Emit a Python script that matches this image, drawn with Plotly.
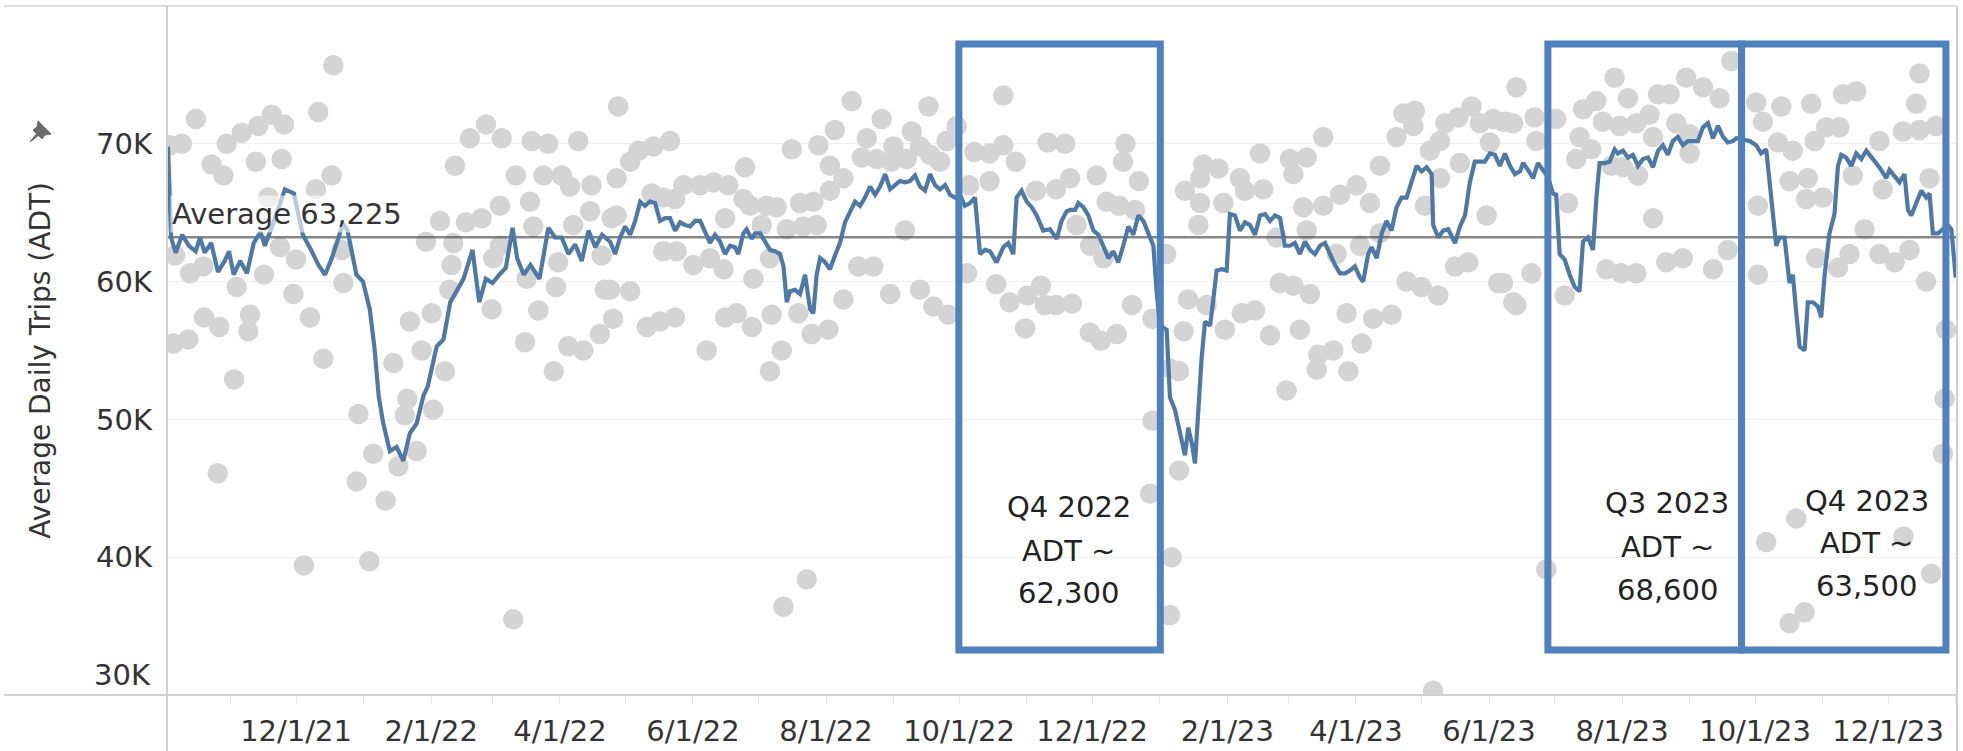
import pandas as pd
import plotly.graph_objects as go

BASE_DATE = "2021-12-01"

# ---- Blue line: rolling Average Daily Trips (days after 12/1/21, value) ----
line_day = [
    -58.7, -57.3, -55.2, -52.2, -49.1, -46.0, -44.0, -41.9, -38.9, -35.8, -32.7, -30.7, -28.6, -25.6,
    -22.5, -19.4, -16.3, -14.3, -11.2, -9.2, -5.1, -1.0, 3.1, 7.2, 10.3, 13.3, 16.4, 19.5, 21.5, 23.6,
    27.7, 30.7, 33.8, 35.9, 37.9, 40.0, 43.0, 46.1, 49.2, 52.2, 55.3, 58.4, 60.4, 64.5, 67.6, 70.7,
    73.7, 76.8, 80.9, 84.0, 87.0, 90.1, 93.2, 96.2, 99.3, 101.4, 104.4, 107.5, 111.6, 115.7, 118.8,
    121.8, 124.9, 128.0, 131.0, 134.1, 137.2, 140.3,
    144.0, 146.3, 148.6, 150.9, 153.2, 155.5, 157.8, 160.0, 162.3, 164.6, 166.9, 169.2, 171.5, 173.8,
    176.1, 178.4, 180.7, 183.0, 185.3, 187.5, 189.8, 192.1, 194.4, 196.7, 199.0, 201.3, 202.8, 205.1,
    206.6, 208.9, 210.5, 212.8, 215.1, 217.3, 219.6, 221.9, 223.5, 225.0, 226.5, 228.8, 231.1, 233.4,
    235.7, 237.2, 238.7, 240.3, 242.6, 244.8, 247.1, 249.4, 251.7, 254.0, 256.3, 258.6, 260.9, 263.2,
    265.5, 267.8, 270.1, 272.4, 274.6, 276.9, 279.2, 281.5, 283.8, 286.1, 288.4, 290.7, 293.0, 295.3,
    297.6, 299.9, 302.1, 304.4, 306.7, 309.0, 311.3, 313.6, 315.9, 318.2, 321.2, 324.3, 326.6, 328.9,
    330.4, 332.7, 335.0, 337.3, 339.6, 342.6, 345.7, 348.8, 351.0, 353.3, 355.0,
    357.2, 358.7, 361.0, 363.3, 365.6, 367.9, 370.2, 372.5, 374.8, 377.0, 379.3, 381.6, 383.9, 386.2,
    388.5, 390.8, 393.1, 394.6, 396.1, 399.2, 400.7, 403.0, 405.3, 407.6, 409.1, 410.7, 412.2, 413.7,
    415.2, 416.8, 419.1, 420.6, 422.1, 424.4, 426.7, 428.2, 430.5, 432.8, 435.1, 437.4, 439.7, 442.0,
    444.3, 446.6, 448.9, 451.2, 453.4, 455.7, 458.0, 460.3, 462.6, 464.9, 467.2, 469.5, 471.8, 474.1,
    476.4, 478.7, 481.0, 483.2, 485.5, 487.8, 489.3, 491.6, 493.2, 495.5, 497.8, 500.0, 502.3, 504.6,
    506.9, 509.2, 511.5, 513.8, 516.1, 518.4, 520.7, 521.4, 523.7, 526.0, 528.3, 531.4, 533.7, 536.0,
    538.2, 540.5, 542.8, 545.1, 547.4, 549.7, 552.0, 554.3, 556.6, 558.9, 561.2,
    562.6, 564.9, 567.2, 569.4, 571.7, 574.0, 576.3, 577.8, 579.4, 581.7, 584.0, 586.3, 588.5, 590.1,
    592.4, 594.7, 596.2, 597.7, 600.0, 602.3, 604.6, 606.1, 608.4, 610.7, 613.0, 615.3, 617.6, 619.9,
    622.2, 624.5, 626.7, 629.0, 631.3, 633.6, 635.9, 638.2, 640.5, 642.8, 645.1, 647.4, 649.7, 652.0,
    654.3, 656.5, 658.8, 660.4, 663.5, 666.5, 669.5, 671.8, 674.1, 675.6, 677.2, 678.7, 680.2, 682.5,
    684.8, 686.3, 687.9, 689.4, 691.7, 693.2, 695.5, 697.8, 699.3, 700.9, 703.1, 705.4, 707.0, 708.5,
    710.8, 713.1, 715.4, 717.7, 720.0, 722.2, 724.5, 726.8, 729.1, 730.6, 732.9, 735.2, 737.5, 739.1,
    740.6, 742.9, 745.2, 747.5, 749.0, 750.5, 752.8, 755.1, 757.4, 759.0, 761.0,
]
line_adt = [
    69800, 63200, 62100, 63400, 62600, 62200, 63200, 62100, 62800, 60700, 61500, 62200, 60500, 61500,
    60600, 62800, 63600, 62600, 63900, 64800, 66700, 66400, 63400, 62200, 61200, 60500, 61700, 63200, 64200, 63700,
    60500, 60000, 58000, 55300, 51700, 49700, 47700, 48000, 47000, 49000, 49700, 51700, 52400, 55300, 55800, 58500,
    59300, 60200, 62300, 58500, 60200, 59900, 60500, 61000, 63900, 61700, 60500, 61200, 60200, 63900, 63200,
    63200, 62000, 62700, 61500, 63700, 62500, 63400,
    62900, 62000, 63200, 64000, 63400, 64400, 65800, 65500, 65800, 65700, 64400, 64600, 64600, 63700,
    64300, 64100, 64000, 64400, 64400, 63700, 62800, 63400, 62900, 62000, 62600, 62500, 62000, 63500,
    63800, 63100, 63500, 63500, 62900, 62300, 62200, 62000, 61100, 58500, 59300, 59400, 59100, 60500,
    58000, 57700, 60500, 61700, 61400, 60900, 61900, 62800, 64300, 65100, 65800, 65500, 66100, 66900,
    66300, 66900, 67800, 66700, 67000, 67300, 67200, 67300, 67700, 66900, 66600, 67800, 67000, 66700,
    67000, 66300, 66100, 66300, 65500, 65700, 66100, 62000, 62300, 62200, 61400, 62500, 62800, 62000,
    66100, 66600, 65800, 65400, 64800, 63700, 63800, 63100, 64400, 65100, 65200,
    65200, 65700, 65400, 64800, 63700, 63400, 62600, 61700, 62200, 61400, 62600, 64000, 63400, 64800,
    64400, 63400, 62600, 59300, 56800, 56500, 51600, 50700, 49200, 47400, 49400, 48300, 46800, 51300,
    54400, 57100, 56800, 58700, 60800, 60900, 60800, 64900, 64800, 63700, 64300, 64100, 63400, 64800,
    64900, 64400, 64800, 64600, 62600, 62600, 62800, 62000, 62900, 62300, 62000, 62600, 62800, 62000,
    61200, 60600, 60600, 60800, 61100, 60300, 60000, 62000, 62500, 61700, 63500, 64400, 63700, 65400,
    66100, 66100, 67300, 68400, 68000, 68300, 67800, 64100, 63200, 63700, 63800, 62800, 64000, 64800,
    67200, 68700, 68700, 68700, 69300, 69200, 68400, 69300, 68400, 67800, 68000,
    68600, 68100, 67500, 68600, 68100, 67600, 66400, 66300, 62000, 61600, 60500, 59600, 59300, 62900,
    63200, 62300, 66000, 68600, 68600, 68700, 69600, 69300, 69500, 69000, 69200, 68400, 68900, 69000,
    68300, 69500, 69900, 69200, 70200, 70500, 69900, 70200, 70200, 70200, 71200, 71500, 70400, 71300,
    70500, 70100, 70200, 70400, 70300, 70200, 69900, 69300, 69600, 67500, 65100, 62600, 63200, 63200,
    59900, 60500, 57700, 55300, 55000, 58500, 58500, 58200, 57400, 60500, 63500, 64900, 68400, 69200,
    69000, 68400, 69300, 68900, 69500, 69000, 68600, 68100, 67500, 68100, 67700, 67200, 67800, 65200,
    64800, 65700, 66600, 66100, 66400, 63500, 63500, 63800, 64100, 63800, 60300,
]

# ---- Grey dots: daily ADT observations (days after 12/1/21, value) ----
dot_day = [
    -57.8, -52.4, -45.9, -38.7, -33.3, -31.8, -24.9, -18.4, -17.3, -11.2, -6.6, -5.5, 10.2, 17.1, 16.3,
    9.1, -12.7, -55.5, -48.6, -42.5, -27.2, -14.7, -7.4, 0.0, -1.2, 6.4, 12.5, -28.4, -35.9, -56.2,
    -49.4, -42.2, -35.2, -21.9, -21.1, 3.6, 21.7, 20.9,
    27.8, 28.6, 33.6, 35.4, 41.1, 44.6, 46.9, 49.9, 51.0, 52.2, 55.3, 57.6, 59.6, 62.2, 62.9, 66.0,
    68.3, 70.3, 71.3, 72.1, 72.9, 77.9, 79.7, 85.1, 87.1, 89.7, 90.4,
    93.5, 93.5, 94.3, 99.6, 100.8, 105.0, 105.7, 107.3, 108.0, 108.8, 111.1, 113.4, 115.6, 118.2, 119.2,
    120.2, 121.8, 124.8, 125.6, 127.1, 129.4, 131.7, 134.8, 135.5, 139.3, 140.1, 141.6, 144.7, 145.4, 147.7,
    144.0, 147.0, 147.0, 153.2, 153.2, 157.0, 160.8, 163.1, 163.9, 166.9, 168.4, 168.4, 171.5, 173.8,
    173.8, 174.5, 177.6, 182.2, 185.2, 188.3, 189.8, 191.4, 196.0, 196.7, 196.7, 198.2, 202.1, 205.1,
    205.9, 208.2, 209.0, 209.7, 213.5, 215.8, 217.3, 217.3, 218.1, 220.4, 222.7, 223.5, 225.0, 227.3,
    230.3, 231.1, 232.6, 234.2, 236.4, 237.2, 238.7, 239.5, 244.1, 244.8, 244.8, 247.1, 251.0, 251.0,
    254.8, 257.8, 259.4, 261.7, 264.7, 266.3, 268.5, 272.4, 273.1, 273.9, 279.2, 280.0, 282.3, 286.1,
    286.1, 290.0, 290.7, 292.2, 295.3, 298.3, 299.1, 302.9,
    307.7, 308.6, 311.0, 318.0, 318.0, 321.0, 324.3, 324.3, 327.2, 330.0, 334.3, 335.4, 339.3, 341.6,
    343.4, 344.6, 348.5, 348.5, 352.6, 354.9, 355.8, 357.9, 364.0, 364.1, 367.1, 369.1, 370.2, 371.7,
    376.3, 377.4, 379.2, 380.3, 383.3, 384.7, 386.5, 391.6, 392.7, 392.7, 399.0, 400.7, 400.7, 401.5,
    404.9, 404.9, 407.0, 409.0,
    407.6, 413.7, 414.5, 414.5, 416.0, 417.5, 422.9, 425.2, 425.9, 432.8, 433.6, 435.1, 439.7, 442.0,
    443.5, 446.6, 449.6, 451.1, 454.2, 455.7, 457.3, 457.3, 460.3, 461.8, 463.4, 463.4, 464.9, 468.0,
    468.7, 471.0, 471.0, 475.6, 477.1, 478.7, 481.7, 482.5, 486.3, 487.8, 488.6, 492.4, 493.9, 497.0,
    497.0, 502.3, 504.6, 507.7, 509.2, 512.3, 513.0, 516.1, 517.6, 519.9, 521.4, 523.7, 524.5, 524.5,
    526.9, 531.4, 532.9, 533.7, 537.5, 539.0, 542.8, 545.9, 547.4, 549.0, 551.2, 555.1, 558.1, 559.6,
    553.4, 553.4, 558.0, 559.5, 566.4, 567.9, 568.7, 573.3, 577.8, 581.7, 583.2, 587.0, 588.5, 590.1,
    593.9, 596.2, 599.2, 600.8, 603.1, 604.6, 606.9, 607.6, 608.4, 610.7, 614.5, 614.5, 615.3, 620.6,
    622.2, 622.2, 624.5, 628.3, 629.8, 632.9, 635.9, 637.4, 639.0, 639.0, 645.1, 649.7, 652.7, 656.5,
    658.1, 669.5, 670.3, 670.3, 672.6, 674.1, 679.5, 681.0, 684.8, 684.8, 686.3, 687.9, 691.7, 692.4,
    693.2, 694.7, 696.3, 697.0, 700.1, 701.6, 707.0, 707.7, 709.3, 712.3, 713.8, 715.4, 719.2, 726.0,
    726.0, 727.6, 733.0, 736.8, 737.0, 739.8, 742.9, 744.4, 744.4, 747.4, 749.0, 749.7, 752.0, 755.1,
    755.9, 756.6,
]
dot_adt = [
    69900, 70000, 71800, 68500, 67700, 70000, 70800, 68700, 71300, 72100, 68900, 71400, 72300, 75700, 67700,
    66700, 66100, 61900, 60600, 61100, 59600, 60500, 62500, 61600, 59100, 57400, 54400, 52900, 46100, 55500,
    55800, 57400, 56700, 56400, 57600, 39400, 59900, 62300,
    45500, 50400, 39700, 47500, 44100, 54100, 46600, 50300, 51500, 57100, 47700, 55000, 62900, 57700, 50700, 64400,
    53500, 59400, 61200, 62800, 68400, 64300, 70400, 64600, 71400, 58000, 61700,
    65500, 62600, 70400, 35500, 67700, 55600, 60200, 65800, 70200, 64000, 57900, 67700, 70000, 53500, 59600,
    61400, 67700, 55300, 66900, 64100, 70200, 55000, 65100, 67000, 56200, 61900, 59400, 64600, 57300, 72700,
    59400, 67500, 64800, 68700, 59300, 69500, 56700, 66400, 69800, 57100, 66100, 62200, 70200, 66000,
    57400, 62200, 67000, 61200, 67000, 55000, 61700, 67200, 60900, 64600, 57400, 67000, 57700, 66000,
    68300, 65500, 56700, 60200, 64100, 65500, 61700, 53500, 57600, 65400, 55000, 36400, 63800, 69600,
    57700, 65700, 64000, 38400, 56200, 65800, 64100, 69900, 56500, 66600, 68400, 71000, 67500, 58700,
    73100, 61100, 69000, 70400, 61100, 68900, 71800, 59100, 68700, 69800, 63700, 68900, 70900, 69800,
    59400, 72700, 69200, 58200, 68700, 70200, 57600, 71300,
    60600, 67000, 69400, 69300, 67300, 59800, 73500, 69900, 58500, 68700, 56600, 59000, 66600, 59700,
    58300, 70100, 66700, 58300, 70000, 67500, 58400, 64100, 56300, 62600, 67700, 55700, 61700, 65800,
    56200, 65500, 68700, 70000, 58300, 65200, 67300, 44600, 57300, 49900, 62000, 53700, 35800, 40000,
    53500, 46300, 56400, 58700,
    66600, 64100, 67500, 65700, 68500, 58300, 68200, 65700, 56500, 67500, 57700, 66600, 57900, 69300,
    66700, 56100, 63200, 59900, 52100, 68900, 67800, 59700, 56500, 65400, 69000, 63700, 59100, 53600,
    54700, 70500, 65500, 55000, 62000, 66300, 57700, 53500, 67000, 62600, 55500, 65700, 57300, 63500,
    68400, 57600, 70500, 72200, 60000, 71300, 72400, 59600, 65500, 69500, 30300, 59000, 70200, 67500,
    71500, 61100, 71900, 68600, 61400, 72700, 71500, 64800, 70100, 71800, 59900, 71600, 58500, 74100,
    59900, 71600, 71500, 58300, 60600, 71900, 70200, 39100, 71800, 59000, 65700, 68900, 70500, 72500,
    69600, 73100, 71600, 60900, 68400, 74800, 71300, 60600, 68300, 73300, 71500, 60600, 67700, 72100,
    70500, 64600, 73600, 61400, 73600, 71500, 61700, 74800, 70700, 69300, 74100, 60900, 73300, 62300,
    76000, 73000, 65500, 60500, 71600, 41100, 70100, 72700, 67300, 35200, 69500, 42800, 36000, 66000,
    67500, 72900, 70200, 61700, 66100, 71200, 61000, 71200, 73600, 62000, 67700, 73800, 63800, 70200,
    62000, 66700, 61400, 70900, 41500, 62300, 72900, 75100, 71000, 60000, 67500, 38800, 71300, 47500,
    51500, 56500,
]

AVERAGE_ADT = 63225
y_tick_vals = [40000, 50000, 60000, 70000]
y_tick_text = ["40K", "50K", "60K", "70K"]
month_ticks = pd.date_range("2021-11-01", "2024-01-01", freq="MS")
labelled_months = ["12/1/21", "2/1/22", "4/1/22", "6/1/22", "8/1/22", "10/1/22", "12/1/22",
                   "2/1/23", "4/1/23", "6/1/23", "8/1/23", "10/1/23", "12/1/23"]

quarters = [
    ("2022-09-30 22:00", "2023-01-01 07:00", "Q4 2022", "62,300"),
    ("2023-06-28 00:00", "2023-09-24 19:00", "Q3 2023", "68,600"),
    ("2023-09-24 19:00", "2023-12-27 12:00", "Q4 2023", "63,500"),
]
quarter_text_x = [0.5039, 0.838, 0.9497]
quarter_text_y = [(0.2729, 0.209, 0.148), (0.2787, 0.2148, 0.1524), (0.2816, 0.2206, 0.1582)]

base = pd.Timestamp(BASE_DATE)
line_x = base + pd.to_timedelta(line_day, unit="D")
dot_x = base + pd.to_timedelta(dot_day, unit="D")
x_range = [pd.Timestamp("2021-10-02 20:00"), pd.Timestamp("2024-01-01 14:00")]

FONT = "DejaVu Sans"
TXT = "#333333"
BLUE_BOX = "#4f81bd"

fig = go.Figure()
fig.add_trace(go.Scatter(x=dot_x, y=dot_adt, mode="markers",
                         marker=dict(size=20.5, color="#d4d4d4", line=dict(width=0)),
                         showlegend=False, hoverinfo="skip"))
fig.add_trace(go.Scatter(x=x_range, y=[AVERAGE_ADT, AVERAGE_ADT], mode="lines",
                         line=dict(color="rgba(70,70,70,0.65)", width=2.5),
                         showlegend=False, hoverinfo="skip"))
fig.add_trace(go.Scatter(x=line_x, y=line_adt, mode="lines",
                         line=dict(color="#4e79a7", width=4.2),
                         showlegend=False))

ticktext = []
for d in month_ticks:
    lab = f"{d.month}/{d.day}/{d.year % 100}"
    ticktext.append(lab if lab in labelled_months else "")

shapes = []
frame = "#d0d0d0"
shapes.append(dict(type="line", xref="paper", yref="paper", x0=-0.091, x1=1.0, y0=1, y1=1,
                   line=dict(color="#dcdcdc", width=2)))
shapes.append(dict(type="line", xref="paper", yref="paper", x0=-0.091, x1=1.0, y0=0, y1=0,
                   line=dict(color=frame, width=2)))
shapes.append(dict(type="line", xref="paper", yref="paper", x0=0, x1=0, y0=-0.0813, y1=1,
                   line=dict(color=frame, width=2)))
shapes.append(dict(type="line", xref="paper", yref="paper", x0=1, x1=1, y0=-0.0813, y1=1,
                   line=dict(color=frame, width=2)))
for (x0, x1, _, _) in quarters:
    shapes.append(dict(type="rect", xref="x", yref="paper", x0=x0, x1=x1, y0=0.0653, y1=0.9448,
                       line=dict(color=BLUE_BOX, width=7)))
# pin icon next to axis title
shapes.append(dict(type="path", xref="paper", yref="paper", xsizemode="pixel", ysizemode="pixel",
                   xanchor=(41 - 167) / 1790, yanchor=(695 - 131) / 689,
                   path="M -11 -11 L -2 -4 L -4 -2 Z M -8 1 L 1 -8 L 4 -4 L 10 -3 L -3 10 L -4 4 Z",
                   fillcolor="#6b6b6b", line=dict(color="#6b6b6b", width=1)))

annotations = [
    dict(text="Average Daily Trips (ADT)", textangle=-90, xref="paper", yref="paper",
         x=(41 - 167) / 1790, y=0.485, xanchor="center", yanchor="middle", showarrow=False,
         font=dict(family=FONT, size=28, color=TXT)),
    dict(text=f"Average {AVERAGE_ADT:,}", xref="paper", yref="y", x=0, y=AVERAGE_ADT,
         xanchor="left", yanchor="bottom", xshift=3, yshift=4, showarrow=False,
         bgcolor="rgba(255,255,255,0.6)", borderpad=1,
         font=dict(family=FONT, size=29, color=TXT)),
    dict(text="30K", xref="paper", yref="y", x=0, y=30000, xanchor="right", yanchor="bottom",
         xshift=-14, yshift=1, showarrow=False, font=dict(family=FONT, size=29, color=TXT)),
]
for (x0, x1, q, v), tx, tys in zip(quarters, quarter_text_x, quarter_text_y):
    for txt, ty in zip([q, "ADT ~", v], tys):
        annotations.append(dict(text=txt, xref="paper", yref="paper", x=tx, y=ty,
                                xanchor="center", yanchor="middle", showarrow=False,
                                font=dict(family=FONT, size=29, color="#222222")))

fig.update_layout(
    width=1963, height=751, autosize=False,
    margin=dict(l=167, r=6, t=6, b=56),
    plot_bgcolor="white", paper_bgcolor="white",
    shapes=shapes, annotations=annotations,
    xaxis=dict(type="date", range=x_range, tickvals=list(month_ticks), ticktext=ticktext,
               showgrid=False, zeroline=False, showline=False, automargin=False,
               ticks="outside", ticklen=8, tickcolor="#e6e6e6", tickwidth=1,
               tickfont=dict(family=FONT, size=29, color=TXT), ticklabelstandoff=2),
    yaxis=dict(range=[30000, 80000], tickvals=y_tick_vals, ticktext=y_tick_text,
               showgrid=True, gridcolor="#efefef", gridwidth=1, zeroline=False, showline=False,
               automargin=False,
               ticks="", tickfont=dict(family=FONT, size=29, color=TXT), ticklabelstandoff=14),
)

fig.write_html("out.html", config={"displayModeBar": False},
               post_script="document.body.style.margin='0px';document.body.style.padding='0px';"
                           "document.body.style.overflow='hidden';")
